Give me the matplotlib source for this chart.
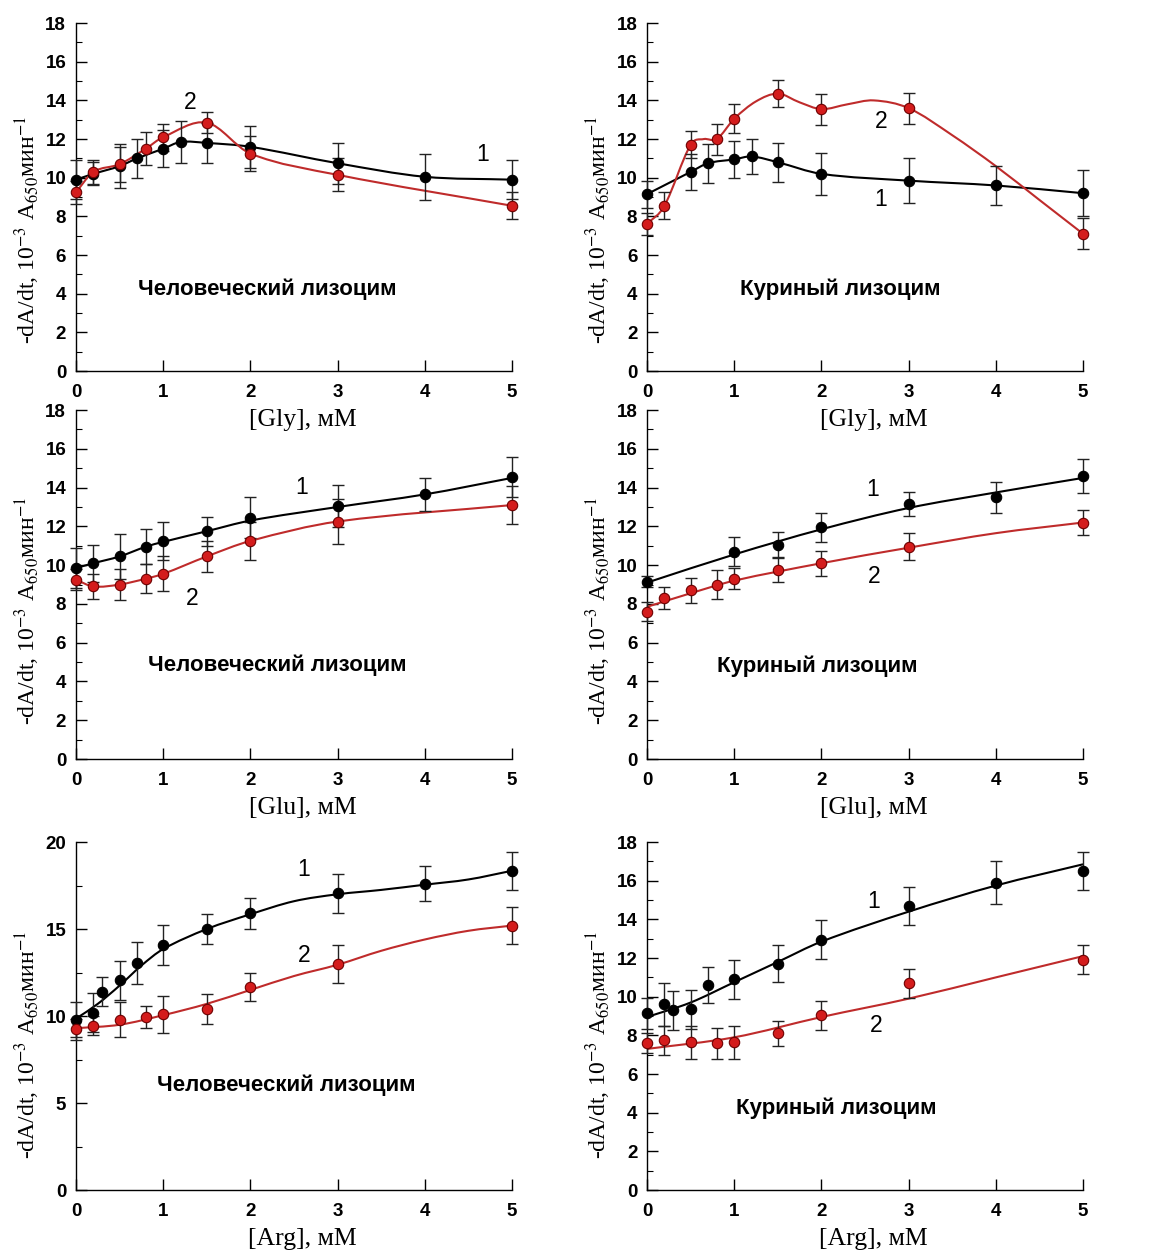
import numpy as np
import matplotlib
matplotlib.use('Agg')
import matplotlib.pyplot as plt
from matplotlib.path import Path
from matplotlib.patches import PathPatch
from matplotlib.ticker import MultipleLocator

plt.rcParams['font.family'] = ['Liberation Sans', 'DejaVu Sans']
plt.rcParams['mathtext.fontset'] = 'stix'

# Gly, human lysozyme
gly_h1_x = [0, 0.2, 0.5, 0.7, 1.0, 1.2, 1.5, 2, 3, 4, 5]
gly_h1_y = [9.9, 10.2, 10.6, 11.0, 11.5, 11.85, 11.8, 11.6, 10.75, 10.05, 9.9]
gly_h1_e = [1.0, 0.6, 1.15, 1.0, 0.95, 1.1, 1.05, 1.1, 1.05, 1.2, 1.0]
gly_h2_x = [0, 0.2, 0.5, 0.8, 1.0, 1.5, 2, 3, 5]
gly_h2_y = [9.25, 10.3, 10.7, 11.5, 12.1, 12.85, 11.25, 10.15, 8.55]
gly_h2_e = [0.6, 0.6, 0.9, 0.85, 0.7, 0.55, 0.9, 0.85, 0.7]

# Gly, chicken lysozyme
gly_c1_x = [0, 0.5, 0.7, 1.0, 1.2, 1.5, 2, 3, 4, 5]
gly_c1_y = [9.15, 10.3, 10.75, 10.95, 11.1, 10.8, 10.2, 9.85, 9.6, 9.2]
gly_c1_e = [0.7, 0.95, 1.0, 0.97, 0.9, 1.0, 1.1, 1.15, 1.0, 1.2]
gly_c2_x = [0, 0.2, 0.5, 0.8, 1.0, 1.5, 2, 3, 5]
gly_c2_y = [7.6, 8.55, 11.7, 12.0, 13.05, 14.35, 13.55, 13.6, 7.1]
gly_c2_e = [0.55, 0.7, 0.7, 0.8, 0.75, 0.7, 0.8, 0.8, 0.8]
gly_c2_fx = [0, 0.2, 0.5, 0.65, 0.8, 1.0, 1.25, 1.5, 1.75, 2, 2.3, 2.6, 3, 3.5, 4, 4.5, 5]
gly_c2_fy = [7.6, 8.55, 11.7, 12.0, 12.0, 13.05, 13.95, 14.35, 13.9, 13.55, 13.8, 14.0, 13.6, 12.2, 10.6, 8.85, 7.1]

# Glu, human lysozyme
glu_h1_x = [0, 0.2, 0.5, 0.8, 1.0, 1.5, 2, 3, 4, 5]
glu_h1_y = [9.85, 10.1, 10.45, 10.95, 11.25, 11.75, 12.45, 13.05, 13.65, 14.55]
glu_h1_e = [1.05, 0.95, 1.15, 0.9, 1.0, 0.75, 1.05, 1.1, 0.85, 1.05]
glu_h1_fx = [0, 0.2, 0.5, 0.8, 1.0, 1.5, 2, 3, 4, 5]
glu_h1_fy = [9.85, 10.1, 10.45, 10.95, 11.2, 11.75, 12.3, 13.0, 13.65, 14.5]
glu_h2_x = [0, 0.2, 0.5, 0.8, 1.0, 1.5, 2, 3, 5]
glu_h2_y = [9.25, 8.9, 9.0, 9.3, 9.55, 10.45, 11.25, 12.25, 13.1]
glu_h2_e = [0.55, 0.65, 0.8, 0.75, 0.9, 0.8, 1.0, 1.15, 1.0]

# Glu, chicken lysozyme
glu_c1_x = [0, 1.0, 1.5, 2, 3, 4, 5]
glu_c1_y = [9.15, 10.7, 11.05, 11.95, 13.15, 13.5, 14.6]
glu_c1_e = [0.3, 0.75, 0.65, 0.75, 0.6, 0.8, 0.9]
glu_c1_fx = [0, 1, 2, 3, 4, 5]
glu_c1_fy = [9.1, 10.55, 11.85, 12.95, 13.75, 14.5]
glu_c2_x = [0, 0.2, 0.5, 0.8, 1.0, 1.5, 2, 3, 5]
glu_c2_y = [7.6, 8.3, 8.7, 9.0, 9.3, 9.75, 10.1, 10.95, 12.2]
glu_c2_e = [0.5, 0.55, 0.65, 0.75, 0.55, 0.6, 0.65, 0.7, 0.65]
glu_c2_fx = [0, 0.5, 1, 2, 3, 4, 5]
glu_c2_fy = [7.85, 8.55, 9.2, 10.1, 10.9, 11.65, 12.2]

# Arg, human lysozyme
arg_h1_x = [0, 0.2, 0.3, 0.5, 0.7, 1.0, 1.5, 2, 3, 4, 5]
arg_h1_y = [9.8, 10.2, 11.4, 12.05, 13.05, 14.1, 15.0, 15.9, 17.05, 17.6, 18.35]
arg_h1_e = [1.0, 1.1, 0.85, 1.1, 1.2, 1.15, 0.85, 0.9, 1.1, 1.0, 1.1]
arg_h1_fx = [0, 0.25, 0.5, 0.75, 1.0, 1.5, 2.0, 2.5, 3.0, 3.5, 4.0, 4.5, 5.0]
arg_h1_fy = [9.85, 10.7, 11.75, 12.9, 13.85, 15.0, 15.85, 16.6, 17.0, 17.25, 17.55, 17.85, 18.35]
arg_h2_x = [0, 0.2, 0.5, 0.8, 1.0, 1.5, 2, 3, 5]
arg_h2_y = [9.25, 9.45, 9.8, 9.95, 10.1, 10.4, 11.65, 13.0, 15.2]
arg_h2_e = [0.6, 0.55, 1.0, 0.65, 1.05, 0.85, 0.8, 1.1, 1.05]
arg_h2_fx = [0, 0.5, 1.0, 1.5, 2.0, 2.5, 3.0, 3.5, 4.0, 4.5, 5.0]
arg_h2_fy = [9.3, 9.5, 10.05, 10.7, 11.5, 12.3, 12.95, 13.75, 14.4, 14.9, 15.2]

# Arg, chicken lysozyme
arg_c1_x = [0, 0.2, 0.3, 0.5, 0.7, 1.0, 1.5, 2, 3, 4, 5]
arg_c1_y = [9.15, 9.6, 9.3, 9.35, 10.6, 10.9, 11.7, 12.95, 14.7, 15.9, 16.5]
arg_c1_e = [0.8, 1.1, 1.0, 1.0, 0.95, 1.0, 0.95, 1.0, 1.0, 1.1, 1.0]
arg_c1_fx = [0, 0.5, 1.0, 1.5, 2.0, 3.0, 4.0, 5.0]
arg_c1_fy = [8.95, 9.7, 10.75, 11.8, 12.85, 14.4, 15.75, 16.85]
arg_c2_x = [0, 0.2, 0.5, 0.8, 1.0, 1.5, 2, 3, 5]
arg_c2_y = [7.6, 7.75, 7.65, 7.6, 7.65, 8.1, 9.05, 10.7, 11.9]
arg_c2_e = [0.5, 0.75, 0.85, 0.8, 0.85, 0.65, 0.75, 0.75, 0.75]
arg_c2_fx = [0, 1, 2, 3, 4, 5]
arg_c2_fy = [7.3, 7.9, 8.95, 9.9, 11.0, 12.1]

xlabels = ['[Gly], мМ', '[Glu], мМ', '[Arg], мМ']
titles = ['Человеческий лизоцим', 'Куриный лизоцим']
ylabel = '-dA/dt, 10$^{-3}$ A$_{650}$мин$^{-1}$'


def smooth_path(xs, ys):
    xs = np.asarray(xs, float)
    ys = np.asarray(ys, float)
    n = len(xs)
    m = np.zeros(n)
    m[0] = (ys[1] - ys[0]) / (xs[1] - xs[0])
    m[-1] = (ys[-1] - ys[-2]) / (xs[-1] - xs[-2])
    for i in range(1, n - 1):
        m[i] = (ys[i + 1] - ys[i - 1]) / (xs[i + 1] - xs[i - 1])
    verts = [(xs[0], ys[0])]
    codes = [Path.MOVETO]
    for i in range(n - 1):
        h = xs[i + 1] - xs[i]
        verts += [(xs[i] + h / 3, ys[i] + m[i] * h / 3),
                  (xs[i + 1] - h / 3, ys[i + 1] - m[i + 1] * h / 3),
                  (xs[i + 1], ys[i + 1])]
        codes += [Path.CURVE4] * 3
    return Path(verts, codes)


black = '#000000'
red_line = '#bf2b2b'
red_face = '#d41c1c'
red_edge = '#6e0000'

panels = [
    # row, col, series [(x, y, err, fx, fy, kind)], ylim, major, title pos, label positions
    (0, 0, [(gly_h1_x, gly_h1_y, gly_h1_e, gly_h1_x, gly_h1_y, 'k'),
            (gly_h2_x, gly_h2_y, gly_h2_e, gly_h2_x, gly_h2_y, 'r')],
     18, 2, (2.19, 4.24), [('2', 1.31, 13.9), ('1', 4.66, 11.2)]),
    (0, 1, [(gly_c1_x, gly_c1_y, gly_c1_e, gly_c1_x, gly_c1_y, 'k'),
            (gly_c2_x, gly_c2_y, gly_c2_e, gly_c2_fx, gly_c2_fy, 'r')],
     18, 2, (2.22, 4.24), [('2', 2.68, 12.9), ('1', 2.68, 8.85)]),
    (1, 0, [(glu_h1_x, glu_h1_y, glu_h1_e, glu_h1_fx, glu_h1_fy, 'k'),
            (glu_h2_x, glu_h2_y, glu_h2_e, glu_h2_x, glu_h2_y, 'r')],
     18, 2, (2.31, 4.85), [('1', 2.59, 13.98), ('2', 1.33, 8.3)]),
    (1, 1, [(glu_c1_x, glu_c1_y, glu_c1_e, glu_c1_fx, glu_c1_fy, 'k'),
            (glu_c2_x, glu_c2_y, glu_c2_e, glu_c2_fx, glu_c2_fy, 'r')],
     18, 2, (1.95, 4.8), [('1', 2.59, 13.9), ('2', 2.61, 9.44)]),
    (2, 0, [(arg_h1_x, arg_h1_y, arg_h1_e, arg_h1_fx, arg_h1_fy, 'k'),
            (arg_h2_x, arg_h2_y, arg_h2_e, arg_h2_fx, arg_h2_fy, 'r')],
     20, 5, (2.41, 6.03), [('1', 2.61, 18.4), ('2', 2.62, 13.5)]),
    (2, 1, [(arg_c1_x, arg_c1_y, arg_c1_e, arg_c1_fx, arg_c1_fy, 'k'),
            (arg_c2_x, arg_c2_y, arg_c2_e, arg_c2_fx, arg_c2_fy, 'r')],
     18, 2, (2.17, 4.25), [('1', 2.6, 14.9), ('2', 2.63, 8.5)]),
]

col_left = [0.0661, 0.5631]
row_bottom = [0.7041, 0.3947, 0.0510]
row_height = [0.2775, 0.2783, 0.2775]
ylab_y = [0.405, 0.424, 0.417]
width = 0.3795

fig = plt.figure(figsize=(11.49, 12.54), dpi=100)

for row, col, series, ytop, major, tpos, labels in panels:
    ax = fig.add_axes([col_left[col], row_bottom[row], width, row_height[row]])
    ax.patch.set_visible(False)
    for x, y, e, fx, fy, kind in series:
        if kind == 'k':
            lc, fc, ec = black, black, black
        else:
            lc, fc, ec = red_line, red_face, red_edge
        ax.add_patch(PathPatch(smooth_path(fx, fy), fill=False, edgecolor=lc,
                               lw=1.5, zorder=2, clip_on=False))
        ax.errorbar(x, y, yerr=e, fmt='none', ecolor='#222222', elinewidth=1.0,
                    capsize=4.5, capthick=1.0, zorder=3, clip_on=False)
        ax.plot(x, y, 'o', ms=7.5, mfc=fc, mec=ec, mew=0.8, zorder=4, clip_on=False)

    ax.set_xlim(0, 5)
    ax.set_ylim(0, ytop)
    ax.spines['top'].set_visible(False)
    ax.spines['right'].set_visible(False)
    ax.spines['left'].set_linewidth(1.0)
    ax.spines['bottom'].set_linewidth(1.0)
    ax.xaxis.set_major_locator(MultipleLocator(1))
    ax.yaxis.set_major_locator(MultipleLocator(major))
    ax.yaxis.set_minor_locator(MultipleLocator(major / 2))
    ax.tick_params(axis='both', which='major', direction='in', length=8, width=1.0,
                   labelsize=13.5)
    ax.tick_params(axis='y', which='minor', direction='in', length=4, width=0.8)
    ax.tick_params(axis='y', which='major', pad=7)
    ax.tick_params(axis='x', which='major', pad=9)
    for lab in ax.get_xticklabels() + ax.get_yticklabels():
        lab.set_fontweight('bold')

    ax.set_xlabel(xlabels[row], fontsize=18.5, family=['Liberation Serif', 'DejaVu Serif'])
    ax.xaxis.set_label_coords(0.52, -0.11)
    ax.set_ylabel(ylabel, fontsize=17, family=['Liberation Serif', 'DejaVu Serif'])
    ax.yaxis.set_label_coords(-0.078, ylab_y[row])

    ax.text(tpos[0], tpos[1], titles[col], fontsize=16, fontweight='bold',
            ha='center', va='center')
    for s, lx, ly in labels:
        ax.text(lx, ly, s, fontsize=16.5, ha='center', va='center')

plt.savefig('out.png', dpi=100)
